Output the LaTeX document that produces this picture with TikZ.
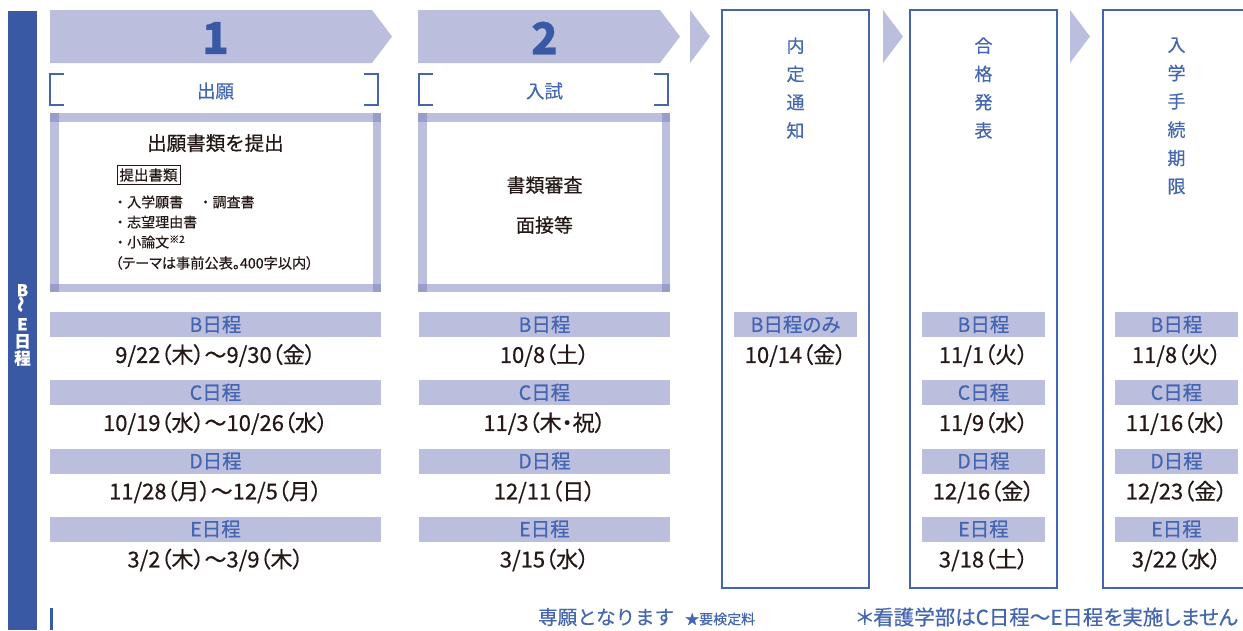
\documentclass[tikz,border=0pt]{standalone}
\usepackage{fontspec}
\setmainfont{Noto Sans CJK JP}[FakeBold=0.4]
\newfontfamily\propfont{Noto Sans CJK JP}[RawFeature=+palt, FakeBold=0.5]
\usetikzlibrary{positioning}
\definecolor{navy}{HTML}{3A59A4}
\definecolor{mark}{HTML}{4466B0}
\definecolor{lav}{HTML}{BBBEDD}
\definecolor{lavdark}{HTML}{9A9CCB}
\definecolor{ink}{HTML}{231815}
\newcommand{\fs}[1]{\fontsize{#1}{#1}\selectfont}

\begin{document}
\begin{tikzpicture}[x=1pt, y=-1pt,
  bar/.style={fill=lav, text=mark, minimum height=25pt, inner sep=0pt, font=\propfont\fs{19.5}},
  date/.style={text=ink, inner sep=0pt, font=\propfont\fs{22}},
  head/.style={text=mark, inner sep=0pt, font=\fs{18.5}},
  vtext/.style={text=mark, inner sep=0pt, align=center, font=\fontsize{18}{28.3}\selectfont},
  outline/.style={draw=mark, line width=1.3pt},
  item/.style={anchor=west, text=ink, inner sep=0pt, font=\fs{14}}]

  \useasboundingbox (0,0) rectangle (1243,630);

  % side bar
  \fill [navy] (8,11) rectangle (37,630);
  \node [text=white, align=center, inner sep=0pt, font=\bfseries\fontsize{16.5}{17}\selectfont] (side) at (22.5,325)
    {B\\[-1pt]\rotatebox{90}{〜}\\[1pt]E\\日\\程};

  % steps
  \fill [lav] (50,10) -- (372,10) -- (392,36.5) -- (372,63) -- (50,63) -- cycle;
  \fill [lav] (418,10) -- (660,10) -- (680,36.5) -- (660,63) -- (418,63) -- cycle;
  \foreach \x in {690, 883, 1070}
    \fill [lav] (\x,10) -- (\x+20,36.5) -- (\x,63) -- cycle;
  \node [text=navy, font=\bfseries\fs{44}] (num1) at (215.5,38) {1};
  \node [text=navy, font=\bfseries\fs{44}] (num2) at (544.5,38) {2};

  % brackets
  \draw [outline, line width=1.2pt] (64,74) -- (50,74) -- (50,105) -- (64,105);
  \draw [outline, line width=1.2pt] (364,74) -- (378,74) -- (378,105) -- (364,105);
  \draw [outline, line width=1.2pt] (433,74) -- (419,74) -- (419,105) -- (433,105);
  \draw [outline, line width=1.2pt] (654,74) -- (668,74) -- (668,105) -- (654,105);
  \node [head] (shutsugan) at (215.5,91) {出願};
  \node [head] (nyushi) at (544.5,91) {入試};

  % framed boxes
  \fill [lav] (50,113) rectangle (381,292);
  \fill [white] (58.5,121.5) rectangle (372.5,283.5);
  \fill [lav] (418,113) rectangle (670,292);
  \fill [white] (426.5,121.5) rectangle (661.5,283.5);
  \foreach \x/\y in {50/113, 372.5/113, 50/283.5, 372.5/283.5, 418/113, 661.5/113, 418/283.5, 661.5/283.5}
    \fill [lavdark] (\x,\y) rectangle +(8.5,8.5);

  \node [text=ink, inner sep=0pt, font=\fs{19.5}] (teishutsu) at (215.5,143) {出願書類を提出};
  \node [draw=ink, line width=0.8pt, text=ink, inner sep=2.5pt, font=\fs{14.5}] (shorui) at (148.5,175) {提出書類};
  \node [item] (item1) at (113,202) {・入学願書\hspace{1.1em}・調査書};
  \node [item] (item2) at (113,222) {・志望理由書};
  \node [item] (item3) at (113,242) {・小論文\raisebox{4.5pt}{\fs{10}※2}};
  \node [item, font=\propfont\fs{14.2}] (item4) at (115,263) {（テーマは事前公表。400字以内）};

  \node [text=ink, inner sep=0pt, font=\fs{19}] (shinsa) at (544.5,185) {書類審査};
  \node [text=ink, inner sep=0pt, font=\fs{19}] (mensetsu) at (544.5,225) {面接等};

  % later steps
  \draw [outline] (722,10) rectangle (869,588);
  \draw [outline] (910,10) rectangle (1057,588);
  \draw [outline] (1243,10) -- (1103,10) -- (1103,588) -- (1243,588);
  \node [vtext] (naitei) at (795.5,88) {内\\定\\通\\知};
  \node [vtext] (goukaku) at (983.5,88) {合\\格\\発\\表};
  \node [vtext] (tetsuzuki) at (1176.5,116) {入\\学\\手\\続\\期\\限};

  % schedule rows
  \foreach \k/\y/\da/\db/\dd/\de in {
      B/324.5/{9/22（木）〜9/30（金）}/{10/8（土）}/{11/1（火）}/{11/8（火）},
      C/392.5/{10/19（水）〜10/26（水）}/{11/3（木・祝）}/{11/9（水）}/{11/16（水）},
      D/461/{11/28（月）〜12/5（月）}/{12/11（日）}/{12/16（金）}/{12/23（金）},
      E/529/{3/2（木）〜3/9（木）}/{3/15（水）}/{3/18（土）}/{3/22（水）}} {
    \node [bar, minimum width=331pt] (barA\k) at (215.5,\y) {{\k}日程};
    \node [date] (dateA\k) at (215.5,\y+31) {\da};
    \node [bar, minimum width=251pt] (barB\k) at (544.5,\y) {{\k}日程};
    \node [date] (dateB\k) at (544.5,\y+31) {\db};
    \node [bar, minimum width=123pt] (barD\k) at (983.5,\y) {{\k}日程};
    \node [date] (dateD\k) at (983.5,\y+31) {\dd};
    \node [bar, minimum width=123pt] (barE\k) at (1176.5,\y) {{\k}日程};
    \node [date] (dateE\k) at (1176.5,\y+31) {\de};
  }
  \node [bar, minimum width=123pt] (barCB) at (795.5,324.5) {B日程のみ};
  \node [date] (dateCB) at (795.5,355.5) {10/14（金）};

  % notes
  \draw [navy, line width=2.5pt] (51.5,608) -- (51.5,630);
  \node [text=mark, anchor=west, inner sep=0pt, font=\fs{19.5}] (sengan) at (538,617) {専願となります};
  \node [text=mark, anchor=west, inner sep=0pt, font=\fs{14}] (kentei) at (685,619) {★要検定料};
  \node [text=mark, anchor=east, inner sep=0pt, font=\propfont\fs{20.5}] (kango) at (1238,617) {＊看護学部はC日程〜E日程を実施しません};
\end{tikzpicture}
\end{document}
